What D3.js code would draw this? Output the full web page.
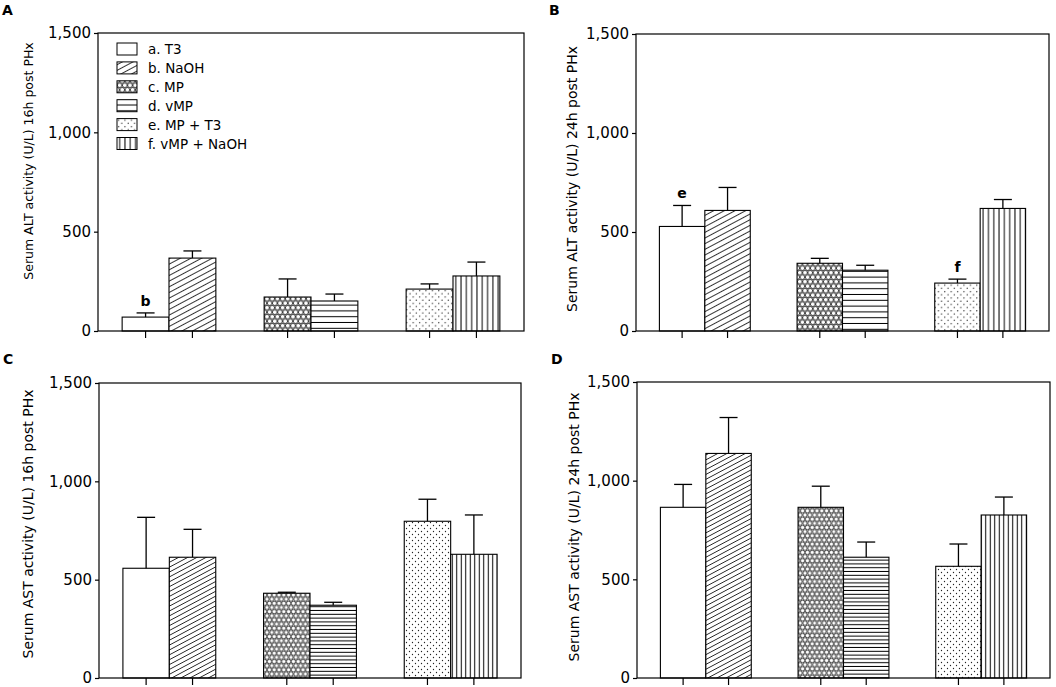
<!DOCTYPE html>
<html>
<head>
<meta charset="utf-8">
<script src="https://cdn.jsdelivr.net/npm/d3@7"></script>
<style>
  body { margin: 0; background: #fff; }
  svg { display: block; }
  text { font-family: 'DejaVu Sans', Verdana, sans-serif; fill: #000; }
</style>
</head>
<body>
<div id="chart"></div>
<script>
// treatments, in bar order
const treatments = ['a. T3', 'b. NaOH', 'c. MP', 'd. vMP', 'e. MP + T3', 'f. vMP + NaOH'];
const fillKeys = ['blank', 'hatch', 'hex', 'hlines', 'dots', 'vlines'];
const groups = ['T3 / NaOH', 'MP / vMP', 'MP+T3 / vMP+NaOH'];
const yTicks = [0, 500, 1000, 1500];

// values (mean, SEM)
const altMean16 = [70, 367, 171, 151, 211, 277];
const altSem16 = [21, 36, 91, 35, 26, 70];
const altMean24 = [528, 609, 342, 307, 242, 619];
const altSem24 = [106, 116, 25, 25, 20, 45];
const astMean16 = [558, 614, 431, 370, 797, 629];
const astSem16 = [259, 142, 5, 15, 112, 200];
const astMean24 = [865, 1138, 865, 612, 566, 826];
const astSem24 = [116, 182, 107, 77, 113, 91];

// significance letters: [bar index, letter]
const notesA = [[0, 'b']];
const notesB = [[0, 'e'], [4, 'f']];

const W = 1056;
const H = 687;

const svg = d3.select('#chart').append('svg')
  .attr('width', W)
  .attr('height', H);

const defs = svg.append('defs');

// pattern fills; the top row of panels was drawn at a coarser scale
function addPatterns(sfx, s) {
  const hatch = defs.append('pattern')
    .attr('id', `hatch${sfx}`)
    .attr('patternUnits', 'userSpaceOnUse')
    .attr('width', 20).attr('height', s.hatch)
    .attr('patternTransform', 'rotate(-28)');
  hatch.append('rect').attr('width', 20).attr('height', s.hatch).attr('fill', '#fff');
  hatch.append('line')
    .attr('x1', 0).attr('x2', 20).attr('y1', s.hatch / 2).attr('y2', s.hatch / 2)
    .attr('stroke', '#000').attr('stroke-width', 0.8);

  const hl = defs.append('pattern')
    .attr('id', `hlines${sfx}`)
    .attr('patternUnits', 'userSpaceOnUse')
    .attr('width', 10).attr('height', s.hl);
  hl.append('rect').attr('width', 10).attr('height', s.hl).attr('fill', '#fff');
  hl.append('line')
    .attr('x1', 0).attr('x2', 10).attr('y1', s.hl - 0.5).attr('y2', s.hl - 0.5)
    .attr('stroke', '#000').attr('stroke-width', 1);

  const vl = defs.append('pattern')
    .attr('id', `vlines${sfx}`)
    .attr('patternUnits', 'userSpaceOnUse')
    .attr('width', s.vl).attr('height', 10);
  vl.append('rect').attr('width', s.vl).attr('height', 10).attr('fill', '#fff');
  vl.append('line')
    .attr('x1', s.vl / 2).attr('x2', s.vl / 2).attr('y1', 0).attr('y2', 10)
    .attr('stroke', '#000').attr('stroke-width', 1);

  const dots = defs.append('pattern')
    .attr('id', `dots${sfx}`)
    .attr('patternUnits', 'userSpaceOnUse')
    .attr('width', s.dot).attr('height', s.dot);
  dots.append('rect').attr('width', s.dot).attr('height', s.dot).attr('fill', '#fff');
  [[0.25, 0.25], [0.75, 0.75]].forEach(([a, b]) => {
    dots.append('circle')
      .attr('cx', a * s.dot).attr('cy', b * s.dot).attr('r', 0.65)
      .attr('fill', '#222');
  });

  const d = s.hex;
  const hh = d * Math.sqrt(3);
  const hex = defs.append('pattern')
    .attr('id', `hex${sfx}`)
    .attr('patternUnits', 'userSpaceOnUse')
    .attr('width', d).attr('height', hh);
  hex.append('rect').attr('width', d).attr('height', hh).attr('fill', '#fff');
  [[0, 0], [d, 0], [d / 2, hh / 2], [0, hh], [d, hh]].forEach(([cx, cy]) => {
    hex.append('circle')
      .attr('cx', cx).attr('cy', cy).attr('r', d / 2 - 0.3)
      .attr('fill', '#fff').attr('stroke', '#222').attr('stroke-width', 0.8);
  });
}

addPatterns('T', { hatch: 5, hl: 5.8, vl: 5.3, dot: 6.4, hex: 5.2 });
addPatterns('B', { hatch: 4.3, hl: 3.8, vl: 4.5, dot: 6, hex: 4.8 });

function fillFor(key, sfx) {
  return key === 'blank' ? '#fff' : `url(#${key}${sfx})`;
}

const panels = [
  { letter: 'A', lx: 2, ly: 15, title: 'Serum ALT activity (U/L) 16h post PHx',
    mean: altMean16, sem: altSem16, notes: notesA, legend: true,
    x: 98, y: 33, w: 426, h: 298, tx: 33, tc: 161, tf: 12.5, sfx: 'T' },
  { letter: 'B', lx: 549, ly: 15, title: 'Serum ALT activity (U/L) 24h post PHx',
    mean: altMean24, sem: altSem24, notes: notesB, legend: false,
    x: 636, y: 34, w: 413, h: 297, tx: 577, tc: 179, tf: 14, sfx: 'T' },
  { letter: 'C', lx: 3, ly: 364, title: 'Serum AST activity (U/L) 16h post PHx',
    mean: astMean16, sem: astSem16, notes: [], legend: false,
    x: 99, y: 383, w: 422, h: 295, tx: 33, tc: 524, tf: 14, sfx: 'B' },
  { letter: 'D', lx: 551, ly: 364, title: 'Serum AST activity (U/L) 24h post PHx',
    mean: astMean24, sem: astSem24, notes: [], legend: false,
    x: 637, y: 382, w: 413, h: 296, tx: 579, tc: 527, tf: 14, sfx: 'B' },
];

panels.forEach((p) => {
  svg.append('text')
    .attr('x', p.lx)
    .attr('y', p.ly)
    .attr('font-size', 14)
    .attr('font-weight', 'bold')
    .text(p.letter);

  svg.append('text')
    .attr('transform', `translate(${p.tx},${p.tc}) rotate(-90)`)
    .attr('text-anchor', 'middle')
    .attr('font-size', p.tf)
    .text(p.title);

  const g = svg.append('g').attr('transform', `translate(${p.x},${p.y})`);

  const y = d3.scaleLinear().domain([0, 1500]).range([p.h, 0]);
  const x0 = d3.scaleBand().domain(groups).range([0, p.w])
    .paddingInner(0.34).paddingOuter(0.17);
  const x1 = d3.scaleBand().domain([0, 1]).range([0, x0.bandwidth()]);

  const bars = treatments.map((t, i) => ({
    name: t,
    key: fillKeys[i],
    mean: p.mean[i],
    sem: p.sem[i],
    cx: x0(groups[Math.floor(i / 2)]) + x1(i % 2) + x1.bandwidth() / 2,
  }));

  // bars
  g.selectAll('rect.bar')
    .data(bars)
    .enter()
    .append('rect')
    .attr('class', 'bar')
    .attr('x', (d) => d.cx - x1.bandwidth() / 2)
    .attr('y', (d) => y(d.mean))
    .attr('width', x1.bandwidth())
    .attr('height', (d) => p.h - y(d.mean))
    .attr('fill', (d) => fillFor(d.key, p.sfx))
    .attr('stroke', '#000')
    .attr('stroke-width', 1.1);

  // error bars (upper only)
  const err = g.selectAll('g.err')
    .data(bars)
    .enter()
    .append('g')
    .attr('class', 'err')
    .attr('stroke', '#000')
    .attr('stroke-width', 1.3);
  err.append('line')
    .attr('x1', (d) => d.cx).attr('x2', (d) => d.cx)
    .attr('y1', (d) => y(d.mean)).attr('y2', (d) => y(d.mean + d.sem));
  err.append('line')
    .attr('x1', (d) => d.cx - 9).attr('x2', (d) => d.cx + 9)
    .attr('y1', (d) => y(d.mean + d.sem)).attr('y2', (d) => y(d.mean + d.sem));

  // frame
  g.append('rect')
    .attr('width', p.w)
    .attr('height', p.h)
    .attr('fill', 'none')
    .attr('stroke', '#000')
    .attr('stroke-width', 1.2);

  // y axis
  const yAxis = g.append('g')
    .call(d3.axisLeft(y).tickValues(yTicks).tickSize(4).tickSizeOuter(0)
      .tickPadding(3).tickFormat(d3.format(',')));
  yAxis.select('.domain').remove();
  yAxis.selectAll('line').attr('stroke-width', 1.2);
  yAxis.selectAll('text')
    .attr('font-size', 15)
    .attr('font-family', "'DejaVu Sans', Verdana, sans-serif");

  // x ticks at bar centres
  g.selectAll('line.xt')
    .data(bars)
    .enter()
    .append('line')
    .attr('class', 'xt')
    .attr('x1', (d) => d.cx).attr('x2', (d) => d.cx)
    .attr('y1', p.h).attr('y2', p.h + 7)
    .attr('stroke', '#000')
    .attr('stroke-width', 1.2);

  // significance letters
  g.selectAll('text.note')
    .data(p.notes)
    .enter()
    .append('text')
    .attr('class', 'note')
    .attr('x', (d) => bars[d[0]].cx)
    .attr('y', (d) => y(bars[d[0]].mean + bars[d[0]].sem) - 7)
    .attr('text-anchor', 'middle')
    .attr('font-size', 14)
    .attr('font-weight', 'bold')
    .text((d) => d[1]);

  if (p.legend) {
    const lg = g.append('g').attr('transform', 'translate(19,10)');
    const row = lg.selectAll('g')
      .data(treatments)
      .enter()
      .append('g')
      .attr('transform', (d, i) => `translate(0,${i * 18.9})`);
    row.append('rect')
      .attr('width', 20)
      .attr('height', 12)
      .attr('fill', (d, i) => fillFor(fillKeys[i], p.sfx))
      .attr('stroke', '#000')
      .attr('stroke-width', 1);
    row.append('text')
      .attr('x', 31)
      .attr('y', 11)
      .attr('font-size', 13.5)
      .text((d) => d);
  }
});
</script>
</body>
</html>
